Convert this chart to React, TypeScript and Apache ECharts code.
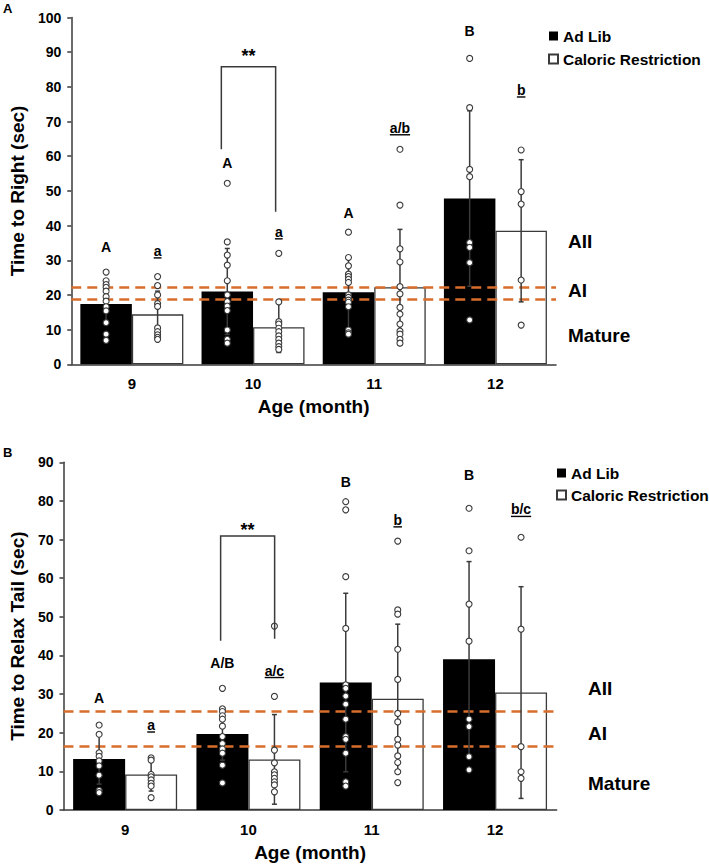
import React, { useEffect, useRef } from "react";
import * as echarts from "echarts";

const FONT = '"Liberation Sans", Arial, Helvetica, sans-serif';

const ages = ["9", "10", "11", "12"];

// Panel A: Time to Right (sec)
const rightAdLibMean = [17.4, 21.0, 20.8, 47.8];
const rightAdLibSD = [5.5, 12.4, 10.3, 25.3];
const rightCRMean = [14.4, 10.7, 22.2, 38.5];
const rightCRSD = [6.7, 7.3, 16.7, 20.5];
const rightAdLibPoints = [
  [26.6, 24.1, 23.0, 22.2, 21.1, 19.5, 18.2, 16.6, 15.4, 12.0, 8.7, 6.9],
  [52.2, 35.3, 31.5, 28.6, 24.1, 20.0, 18.1, 16.8, 15.5, 9.9, 7.2, 6.1],
  [38.1, 30.8, 28.4, 26.0, 25.3, 24.5, 23.6, 20.0, 19.3, 18.5, 17.9, 16.6, 9.9, 9.1, 8.7],
  [88.2, 74.0, 56.2, 54.1, 35.1, 33.7, 29.3, 12.8],
];
const rightCRPoints = [
  [25.3, 22.7, 20.0, 17.5, 16.7, 10.5, 9.4, 8.5, 7.8, 7.2],
  [32.0, 18.0, 12.3, 11.6, 10.4, 9.4, 8.2, 7.2, 6.1, 5.1, 4.3],
  [62.0, 45.9, 33.3, 29.5, 22.4, 20.3, 16.4, 14.5, 11.6, 9.6, 8.7, 7.2, 6.1],
  [61.8, 49.8, 46.2, 24.3, 11.3],
];
const rightAdLibLetters = ["A", "A", "A", "B"];
const rightAdLibLetterAt = [33.9, 58.1, 43.5, 96.1];
const rightCRLetters = ["a", "a", "a/b", "b"];
const rightCRLetterAt = [32.7, 38.2, 68.2, 79.1];
const rightThresholds = [22.2, 18.9];
// bracket: [category, top, left end, right end, stars label level]
const rightBracket = [1, 85.8, 62.0, 44.0, 88.9];

// Panel B: Time to Relax Tail (sec)
const relaxAdLibMean = [13.2, 19.7, 33.0, 39.0];
const relaxAdLibSD = [6.5, 6.8, 23.1, 25.3];
const relaxCRMean = [9.2, 13.1, 28.8, 30.4];
const relaxCRSD = [4.3, 11.6, 19.3, 27.4];
const relaxAdLibPoints = [
  [22.0, 19.6, 14.8, 13.9, 12.7, 11.4, 9.0, 5.1, 4.5],
  [31.5, 26.2, 25.5, 24.4, 23.5, 21.7, 19.0, 17.2, 15.8, 14.7, 11.6, 7.0],
  [79.8, 77.7, 60.4, 47.0, 32.4, 31.5, 29.5, 27.4, 23.5, 19.0, 18.3, 14.7, 7.3, 6.2],
  [78.1, 67.1, 53.3, 43.7, 23.5, 21.6, 13.8, 10.4],
];
const relaxCRPoints = [
  [13.5, 12.9, 9.2, 8.6, 7.8, 6.9, 6.2, 3.2],
  [47.6, 29.4, 15.5, 12.2, 9.9, 9.1, 8.2, 7.3, 6.5, 4.7],
  [69.6, 51.8, 50.7, 41.6, 33.8, 25.0, 22.8, 18.3, 16.8, 14.0, 12.3, 9.9, 7.1],
  [70.6, 46.8, 16.4, 9.9, 8.2],
];
const relaxAdLibLetters = ["A", "A/B", "B", "B"];
const relaxAdLibLetterAt = [29.1, 38.0, 84.8, 86.7];
const relaxCRLetters = ["a", "a/c", "b", "b/c"];
const relaxCRLetterAt = [22.0, 36.1, 75.1, 77.8];
const relaxThresholds = [25.6, 16.4];
const relaxBracket = [1, 70.9, 43.8, 44.3, 72.5];

const stageLabels = ["AII", "AI", "Mature"];

let measureCtx: CanvasRenderingContext2D | null = null;
function textWidth(t: string, font: string) {
  if (!measureCtx) measureCtx = document.createElement("canvas").getContext("2d");
  if (!measureCtx) return t.length * 7;
  measureCtx.font = font;
  return measureCtx.measureText(t).width;
}

const AXIS_COLOR = "#3a3a3a";
const ORANGE = "#d86d2c";

function buildPanel(idx: number, cfg: any) {
  const { means, sds, points, letters, letterAt, thresholds, bracket, bw, armL, armR } = cfg;
  const off = [-bw / 2, bw / 2];
  const series: any[] = [];
  const names = ["Ad Lib", "Caloric Restriction"];
  for (let s = 0; s < 2; s++) {
    series.push({
      type: "bar",
      name: names[s],
      xAxisIndex: idx,
      yAxisIndex: idx,
      data: means[s],
      barWidth: bw,
      barGap: "0%",
      z: 2,
      itemStyle:
        s === 0
          ? { color: "#000" }
          : { color: "#fff", borderColor: AXIS_COLOR, borderWidth: 1.3 },
      markLine:
        s === 1
          ? {
              silent: true,
              symbol: ["none", "none"],
              label: { show: false },
              z: 4,
              lineStyle: { color: ORANGE, width: 2.6, type: [10, 6] },
              data: thresholds.map((v: number) => ({ yAxis: v })),
            }
          : undefined,
    });
  }
  // error bars
  for (let s = 0; s < 2; s++) {
    const o = off[s];
    series.push({
      type: "custom",
      name: "err" + idx + s,
      xAxisIndex: idx,
      yAxisIndex: idx,
      z: 5,
      silent: true,
      encode: { x: 0, y: [1, 2] },
      data: means[s].map((m: number, i: number) => [i, m - sds[s][i], m + sds[s][i]]),
      renderItem: (params: any, api: any) => {
        const lo = api.coord([api.value(0), api.value(1)]);
        const hi = api.coord([api.value(0), api.value(2)]);
        const x = lo[0] + o;
        const st = { stroke: AXIS_COLOR, lineWidth: 1.5 };
        return {
          type: "group",
          children: [
            { type: "line", shape: { x1: x, y1: lo[1], x2: x, y2: hi[1] }, style: st },
            { type: "line", shape: { x1: x - 2.5, y1: lo[1], x2: x + 2.5, y2: lo[1] }, style: st },
            { type: "line", shape: { x1: x - 2.5, y1: hi[1], x2: x + 2.5, y2: hi[1] }, style: st },
          ],
        };
      },
    });
  }
  // individual points
  for (let s = 0; s < 2; s++) {
    const data: number[][] = [];
    points[s].forEach((arr: number[], i: number) => arr.forEach((v) => data.push([i, v])));
    series.push({
      type: "scatter",
      name: "pts" + idx + s,
      xAxisIndex: idx,
      yAxisIndex: idx,
      z: 6,
      silent: true,
      symbol: "circle",
      symbolSize: 6,
      symbolOffset: [off[s], 0],
      itemStyle: { color: "#fff", borderColor: AXIS_COLOR, borderWidth: 1.1, opacity: 1 },
      data,
    });
  }
  // letters
  for (let s = 0; s < 2; s++) {
    const o = off[s];
    const labels = letters[s];
    series.push({
      type: "custom",
      name: "let" + idx + s,
      xAxisIndex: idx,
      yAxisIndex: idx,
      z: 7,
      silent: true,
      data: letterAt[s].map((v: number, i: number) => [i, v]),
      renderItem: (params: any, api: any) => {
        const p = api.coord([api.value(0), api.value(1)]);
        const x = p[0] + o;
        const txt = labels[params.dataIndex];
        const font = `bold 14px ${FONT}`;
        const children: any[] = [
          {
            type: "text",
            style: { text: txt, x, y: p[1], align: "center", verticalAlign: "middle", font, fill: "#000" },
          },
        ];
        if (s === 1) {
          const w = textWidth(txt, font);
          children.push({
            type: "line",
            shape: { x1: x - w / 2, y1: p[1] + 7, x2: x + w / 2, y2: p[1] + 7 },
            style: { stroke: "#000", lineWidth: 1.4 },
          });
        }
        return { type: "group", children };
      },
    });
  }
  // significance bracket
  series.push({
    type: "custom",
    name: "br" + idx,
    xAxisIndex: idx,
    yAxisIndex: idx,
    z: 7,
    silent: true,
    data: [[bracket[0], bracket[1]]],
    renderItem: (params: any, api: any) => {
      const c = api.value(0);
      const pt = api.coord([c, bracket[1]]);
      const pl = api.coord([c, bracket[2]]);
      const pr = api.coord([c, bracket[3]]);
      const ps = api.coord([c, bracket[4]]);
      const xl = pt[0] + armL;
      const xr = pt[0] + armR;
      return {
        type: "group",
        children: [
          {
            type: "polyline",
            shape: { points: [[xl, pl[1]], [xl, pt[1]], [xr, pt[1]], [xr, pr[1]]] },
            style: { stroke: AXIS_COLOR, lineWidth: 1.5, fill: "none" },
          },
          {
            type: "text",
            style: {
              text: "**",
              x: (xl + xr) / 2,
              y: ps[1],
              align: "center",
              verticalAlign: "middle",
              font: `bold 18px ${FONT}`,
              fill: "#000",
            },
          },
        ],
      };
    },
  });
  return series;
}

export default function App() {
  const ref = useRef<HTMLDivElement>(null);
  useEffect(() => {
    if (!ref.current) return;
    const chart = echarts.init(ref.current, undefined, { renderer: "svg" });
    const axisLine = { show: true, lineStyle: { color: AXIS_COLOR, width: 1.5 } };
    const tickLabel = { color: "#000", fontWeight: "bold", fontSize: 14, fontFamily: FONT };
    const nameStyle = { color: "#000", fontWeight: "bold", fontSize: 19, fontFamily: FONT };
    const legendBase = {
      orient: "vertical",
      icon: "rect",
      itemWidth: 9,
      itemHeight: 9,
      padding: 0,
      selectedMode: false,
      data: ["Ad Lib", "Caloric Restriction"],
      textStyle: { color: "#000", fontWeight: "bold", fontSize: 15.5, fontFamily: FONT, lineHeight: 16 },
    };
    const stageText = (x: number, ys: number[]) =>
      stageLabels.map((t, i) => ({
        type: "text",
        left: x,
        top: ys[i] - 11,
        style: { text: t, font: `bold 19px ${FONT}`, fill: "#000" },
      }));
    const option: any = {
      animation: false,
      backgroundColor: "#fff",
      grid: [
        { left: 58, right: 153, top: 17.5, height: 346.8 },
        { left: 50.7, right: 152.3, top: 462.3, height: 347.7 },
      ],
      legend: [
        { ...legendBase, left: 548, top: 28, itemGap: 7 },
        { ...legendBase, left: 556, top: 465, itemGap: 6 },
      ],
      xAxis: [0, 1].map((g) => ({
        type: "category",
        gridIndex: g,
        data: ages,
        axisLine,
        axisTick: { show: false },
        axisLabel: { ...tickLabel, fontSize: 15, margin: 12 },
        name: "Age (month)",
        nameLocation: "middle",
        nameGap: 33,
        nameTextStyle: nameStyle,
      })),
      yAxis: [
        {
          type: "value",
          gridIndex: 0,
          min: 0,
          max: 100,
          interval: 10,
          axisLine,
          axisTick: { show: true, length: 4, lineStyle: { color: AXIS_COLOR, width: 1.5 } },
          splitLine: { show: false },
          axisLabel: { ...tickLabel, margin: 10 },
          name: "Time to Right (sec)",
          nameLocation: "middle",
          nameGap: 41,
          nameTextStyle: nameStyle,
        },
        {
          type: "value",
          gridIndex: 1,
          min: 0,
          max: 90,
          interval: 10,
          axisLine,
          axisTick: { show: true, length: 4, lineStyle: { color: AXIS_COLOR, width: 1.5 } },
          splitLine: { show: false },
          axisLabel: { ...tickLabel, margin: 10 },
          name: "Time to Relax Tail (sec)",
          nameLocation: "middle",
          nameGap: 34,
          nameTextStyle: nameStyle,
        },
      ],
      graphic: [
        { type: "text", left: 3, top: 2, style: { text: "A", font: `bold 13px ${FONT}`, fill: "#000" } },
        { type: "text", left: 3, top: 446, style: { text: "B", font: `bold 13px ${FONT}`, fill: "#000" } },
        ...stageText(568, [243, 291.7, 336.7]),
        ...stageText(588, [690, 735, 785]),
      ],
      series: [
        ...buildPanel(0, {
          means: [rightAdLibMean, rightCRMean],
          sds: [rightAdLibSD, rightCRSD],
          points: [rightAdLibPoints, rightCRPoints],
          letters: [rightAdLibLetters, rightCRLetters],
          letterAt: [rightAdLibLetterAt, rightCRLetterAt],
          thresholds: rightThresholds,
          bracket: rightBracket,
          bw: 51.5,
          armL: -31.7,
          armR: 22.6,
        }),
        ...buildPanel(1, {
          means: [relaxAdLibMean, relaxCRMean],
          sds: [relaxAdLibSD, relaxCRSD],
          points: [relaxAdLibPoints, relaxCRPoints],
          letters: [relaxAdLibLetters, relaxCRLetters],
          letterAt: [relaxAdLibLetterAt, relaxCRLetterAt],
          thresholds: relaxThresholds,
          bracket: relaxBracket,
          bw: 52,
          armL: -27.8,
          armR: 26.2,
        }),
      ],
    };
    chart.setOption(option);
    return () => chart.dispose();
  }, []);
  return (
    <div
      ref={ref}
      style={{ position: "absolute", left: 0, top: 0, width: 709, height: 865, background: "#fff" }}
    />
  );
}
